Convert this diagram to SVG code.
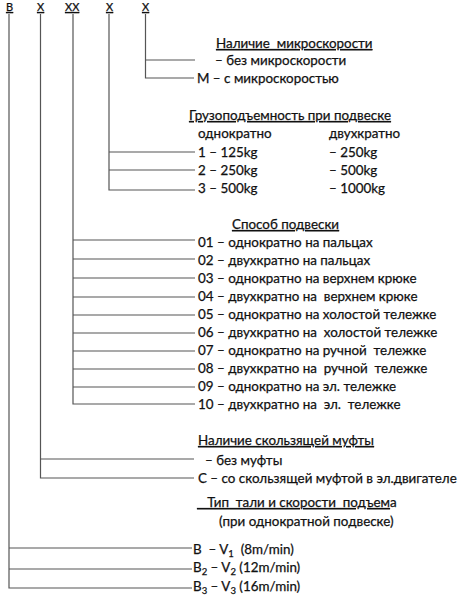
<svg xmlns="http://www.w3.org/2000/svg" width="463" height="600" viewBox="0 0 463 600">
<style>
text{font-family:Lato,"Liberation Sans",sans-serif;font-size:13.4px;fill:#111;stroke:#111;stroke-width:0.25;white-space:pre}
.code{font-size:11px;text-decoration:underline}
.hdr{text-decoration:underline}
.c line,.c polyline{stroke:#555;stroke-width:1.2;fill:none}
</style>
<rect width="463" height="600" fill="#fff"/>
<g id="codes">
<text class="code" x="6" y="11">B</text>
<text class="code" x="37" y="11">X</text>
<text class="code" x="65" y="11">XX</text>
<text class="code" x="106" y="11">X</text>
<text class="code" x="142" y="11">X</text>
</g>
<g class="c" id="connectors">
<polyline points="9,14 9,588 192,588"/>
<line x1="9" y1="548" x2="192" y2="548"/>
<line x1="9" y1="569" x2="192" y2="569"/>
<polyline points="40.5,14 40.5,478 194,478"/>
<line x1="40.5" y1="459" x2="194" y2="459"/>
<polyline points="73,14 73,404 195,404"/>
<line x1="73" y1="240" x2="195" y2="240"/>
<line x1="73" y1="259" x2="195" y2="259"/>
<line x1="73" y1="278" x2="195" y2="278"/>
<line x1="73" y1="297" x2="195" y2="297"/>
<line x1="73" y1="315" x2="195" y2="315"/>
<line x1="73" y1="333" x2="195" y2="333"/>
<line x1="73" y1="351" x2="195" y2="351"/>
<line x1="73" y1="369" x2="195" y2="369"/>
<line x1="73" y1="387" x2="195" y2="387"/>
<polyline points="109,14 109,190 195,190"/>
<line x1="109" y1="152" x2="195" y2="152"/>
<line x1="109" y1="170" x2="195" y2="170"/>
<polyline points="145.5,14 145.5,78 194,78"/>
<line x1="145.5" y1="60" x2="195" y2="60"/>
</g>
<g id="microspeed">
<text class="hdr" x="216" y="48">Наличие  микроскорости</text>
<text x="215" y="65">– без микроскорости</text>
<text x="197" y="83">M – с микроскоростью</text>
</g>
<g id="capacity">
<text class="hdr" x="189" y="120">Грузоподъемность при подвеске</text>
<text x="198" y="138">однократно</text>
<text x="329" y="138">двухкратно</text>
<text x="198" y="157">1 – 125kg</text>
<text x="329" y="157">– 250kg</text>
<text x="198" y="175">2 – 250kg</text>
<text x="329" y="175">– 500kg</text>
<text x="198" y="193">3 – 500kg</text>
<text x="329" y="193">– 1000kg</text>
</g>
<g id="suspension">
<text class="hdr" x="232" y="229">Способ подвески</text>
<text x="198" y="247">01 – однократно на пальцах</text>
<text x="198" y="265">02 – двухкратно на пальцах</text>
<text x="198" y="283">03 – однократно на верхнем крюке</text>
<text x="198" y="301">04 – двухкратно на  верхнем крюке</text>
<text x="198" y="319">05 – однократно на холостой тележке</text>
<text x="198" y="337">06 – двухкратно на  холостой тележке</text>
<text x="198" y="355">07 – однократно на ручной  тележке</text>
<text x="198" y="373">08 – двухкратно на  ручной  тележке</text>
<text x="198" y="391">09 – однократно на эл. тележке</text>
<text x="198" y="409">10 – двухкратно на  эл.  тележке</text>
</g>
<g id="clutch">
<text class="hdr" x="198" y="445">Наличие скользящей муфты</text>
<text x="205" y="465">– без муфты</text>
<text x="198" y="483">C – со скользящей муфтой в эл.двигателе</text>
</g>
<g id="type">
<text x="197" y="507"><tspan class="hdr">   Тип  тали и скорости  подъем</tspan>а</text>
<text x="219" y="526">(при однократной подвеске)</text>
<text x="193" y="554">B  – V<tspan font-size="9.5" dy="3">1</tspan><tspan dy="-3">  (8m/min)</tspan></text>
<text x="193" y="572">B<tspan font-size="9.5" dy="3">2</tspan><tspan dy="-3"> – V</tspan><tspan font-size="9.5" dy="3">2</tspan><tspan dy="-3"> (12m/min)</tspan></text>
<text x="193" y="591">B<tspan font-size="9.5" dy="3">3</tspan><tspan dy="-3"> – V</tspan><tspan font-size="9.5" dy="3">3</tspan><tspan dy="-3"> (16m/min)</tspan></text>
</g>
</svg>
